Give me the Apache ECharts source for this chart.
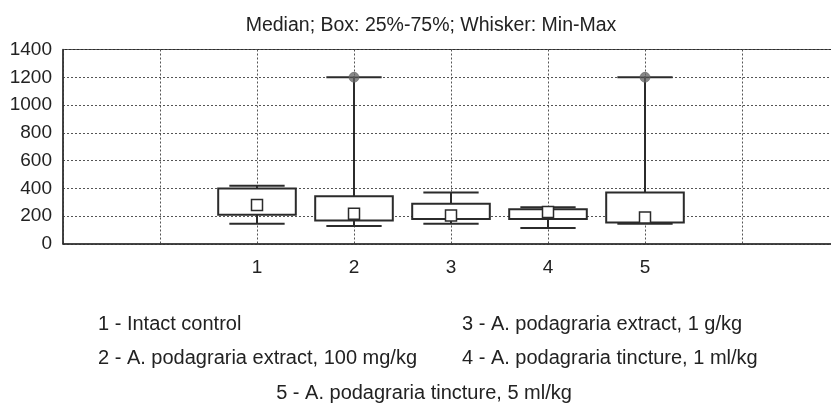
<!DOCTYPE html>
<html>
<head>
<meta charset="utf-8">
<script src="https://cdn.jsdelivr.net/npm/echarts@6/dist/echarts.min.js"></script>
<style>
  html, body { margin: 0; padding: 0; background: #fff; }
  #chart { width: 831px; height: 407px; }
</style>
</head>
<body>
<div id="chart"></div>
<script>
// group numbers on the x axis
const groups = [1, 2, 3, 4, 5];
// min, 25%, median, 75%, max per group
const minVals = [145, 130, 145, 115, 145];
const q1Vals = [210, 170, 180, 180, 155];
const medianVals = [280, 218, 205, 230, 190];
const q3Vals = [400, 343, 290, 250, 370];
const maxVals = [420, 1200, 370, 265, 1200];
// groups whose max is flagged as an extreme point
const extremeGroups = [2, 5];
const yTicks = [0, 200, 400, 600, 800, 1000, 1200, 1400];

const legendLines = [
  '1 - Intact control',
  '2 - A. podagraria extract, 100 mg/kg',
  '3 - A. podagraria extract, 1 g/kg',
  '4 - A. podagraria tincture, 1 ml/kg',
  '5 - A. podagraria tincture, 5 ml/kg'
];

const ink = '#2b2b2b';
const font = 'Liberation Sans, Arial, sans-serif';

const boxData = groups.map((g, i) => [g, minVals[i], q1Vals[i], medianVals[i], q3Vals[i], maxVals[i]]);
const medianData = groups.map((g, i) => [g, medianVals[i]]);
const extremeData = extremeGroups.map(g => [g, maxVals[groups.indexOf(g)]]);

function renderBox(params, api) {
  const x = api.value(0);
  const pMin = api.coord([x, api.value(1)]);
  const pQ1 = api.coord([x, api.value(2)]);
  const pQ3 = api.coord([x, api.value(4)]);
  const pMax = api.coord([x, api.value(5)]);
  const unit = api.size([1, 0])[0];
  const bw = unit * 0.8;
  const cw = unit * 0.57;
  const lineStyle = { stroke: ink, lineWidth: 2 };
  return {
    type: 'group',
    children: [
      { type: 'line', shape: { x1: pQ3[0], y1: pQ3[1], x2: pMax[0], y2: pMax[1] }, style: lineStyle },
      { type: 'line', shape: { x1: pMin[0], y1: pMin[1], x2: pQ1[0], y2: pQ1[1] }, style: lineStyle },
      { type: 'line', shape: { x1: pMax[0] - cw / 2, y1: pMax[1], x2: pMax[0] + cw / 2, y2: pMax[1] }, style: lineStyle },
      { type: 'line', shape: { x1: pMin[0] - cw / 2, y1: pMin[1], x2: pMin[0] + cw / 2, y2: pMin[1] }, style: lineStyle },
      {
        type: 'rect',
        shape: { x: pQ1[0] - bw / 2, y: pQ3[1], width: bw, height: pQ1[1] - pQ3[1] },
        style: { fill: '#fff', stroke: ink, lineWidth: 2 }
      }
    ]
  };
}

// extreme point: grey circle with a cross
const crossCircle = 'path://M10,0A10,10,0,1,1,10,20A10,10,0,1,1,10,0ZM9,1L9,19L11,19L11,1ZM1,9L1,11L19,11L19,9Z';

const legendStyle = { fontSize: 20, fontFamily: font, fill: '#222', textVerticalAlign: 'middle' };
const legendPos = [
  { x: 98, y: 324, align: 'left' },
  { x: 98, y: 358, align: 'left' },
  { x: 462, y: 324, align: 'left' },
  { x: 462, y: 358, align: 'left' },
  { x: 424, y: 393, align: 'center' }
];

const chart = echarts.init(document.getElementById('chart'));
chart.setOption({
  animation: false,
  backgroundColor: '#fff',
  grid: {
    left: 63, right: -8, top: 49.5, bottom: 163,
    outerBoundsMode: 'none',
    containLabel: false,
    show: true, borderColor: ink, borderWidth: 1, backgroundColor: 'transparent'
  },
  xAxis: {
    type: 'value',
    min: -1, max: 7, interval: 1,
    axisLine: { show: true, onZero: false, lineStyle: { color: ink, width: 1.5 } },
    axisTick: { show: false },
    splitLine: { show: true, lineStyle: { color: '#555', type: [2, 2], width: 1 } },
    axisLabel: {
      margin: 14, fontSize: 19, fontFamily: font, color: '#222',
      formatter: v => (groups.includes(v) ? String(v) : '')
    }
  },
  yAxis: {
    type: 'value',
    min: 0, max: 1400, interval: 200,
    axisLine: { show: true, onZero: false, lineStyle: { color: ink, width: 1.5 } },
    axisTick: { show: false },
    splitLine: { show: true, lineStyle: { color: '#555', type: [2, 2], width: 1 } },
    axisLabel: {
      margin: 11, fontSize: 19, fontFamily: font, color: '#222',
      formatter: v => (yTicks.includes(v) ? String(v) : '')
    }
  },
  graphic: [
    {
      type: 'text', x: 431, y: 26,
      style: {
        text: 'Median; Box: 25%-75%; Whisker: Min-Max',
        fontSize: 19.5, fontFamily: font, fill: '#222',
        textAlign: 'center', textVerticalAlign: 'middle'
      }
    }
  ].concat(legendLines.map((t, i) => ({
    type: 'text', x: legendPos[i].x, y: legendPos[i].y,
    style: Object.assign({ text: t, textAlign: legendPos[i].align }, legendStyle)
  }))),
  series: [
    {
      type: 'custom',
      renderItem: renderBox,
      data: boxData,
      encode: { x: 0, y: [1, 2, 3, 4, 5] },
      z: 3
    },
    {
      type: 'scatter',
      data: medianData,
      symbol: 'rect',
      symbolSize: 11,
      itemStyle: { color: '#fff', borderColor: ink, borderWidth: 1.5, opacity: 1 },
      z: 5
    },
    {
      type: 'scatter',
      data: extremeData,
      symbol: crossCircle,
      symbolSize: 10,
      itemStyle: { color: '#888', borderColor: '#555', borderWidth: 0.5, opacity: 1 },
      z: 6
    }
  ]
});
</script>
</body>
</html>
